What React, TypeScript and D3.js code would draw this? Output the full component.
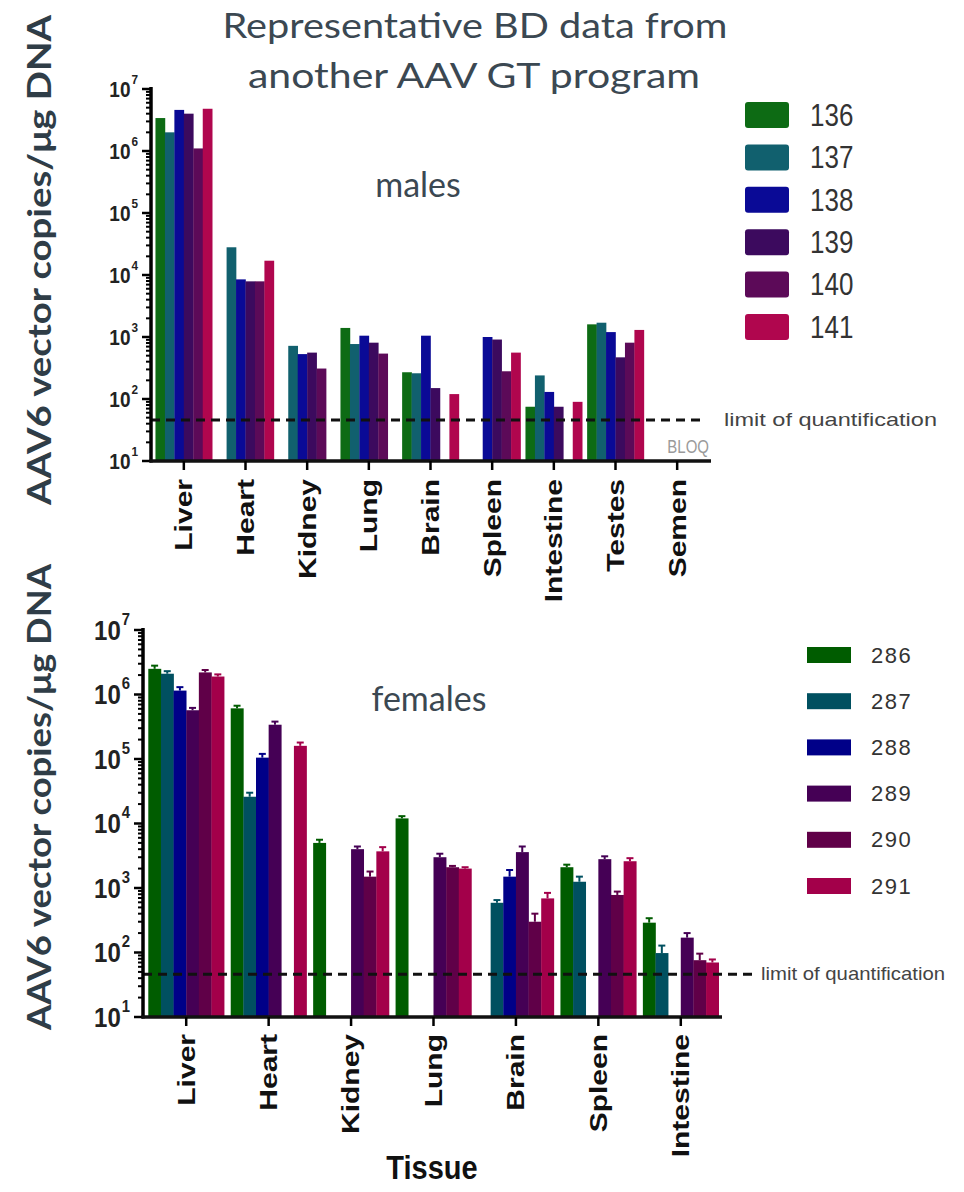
import React from 'react';
import * as d3 from 'd3';

// ---- males (study animals 136–141) ----
const maleTissues = ['Liver', 'Heart', 'Kidney', 'Lung', 'Brain', 'Spleen', 'Intestine', 'Testes', 'Semen'];
const maleIds = ['136', '137', '138', '139', '140', '141'];
const m136 = [3.4e6, null, null, 1.4e3, 270, null, 75, 1.6e3, null];
const m137 = [2.0e6, 2.8e4, 720, 770, 260, null, 240, 1.7e3, null];
const m138 = [4.6e6, 8.5e3, 530, 1.05e3, 1.05e3, 1.0e3, 130, 1.2e3, null];
const m139 = [4.0e6, 7.9e3, 560, 810, 150, 910, 75, 470, null];
const m140 = [1.1e6, 7.9e3, 310, 540, null, 280, null, 810, null];
const m141 = [4.8e6, 1.7e4, null, null, 120, 560, 90, 1.3e3, null];
const maleColors = ['#0d6b14', '#11606e', '#0a0a96', '#3c0a5e', '#5c0a58', '#b0064e'];

// ---- females (study animals 286–291) ----
const femaleTissues = ['Liver', 'Heart', 'Kidney', 'Lung', 'Brain', 'Spleen', 'Intestine'];
const femaleIds = ['286', '287', '288', '289', '290', '291'];
const f286 = [2.5e6, 6.1e5, 5.0e3, 1.2e4, null, 2.1e3, 290];
const f287 = [2.1e6, 2.6e4, null, null, 590, 1.25e3, 98];
const f288 = [1.15e6, 1.05e5, null, null, 1.5e3, null, null];
const f289 = [5.7e5, 3.4e5, 4.0e3, 3.0e3, 3.6e3, 2.8e3, 170];
const f290 = [2.2e6, null, 1.5e3, 2.1e3, 300, 780, 76];
const f291 = [1.9e6, 1.6e5, 3.7e3, 2.0e3, 690, 2.6e3, 70];
// upper error (SD) per bar
const f286Sd = [3e5, 6e4, 6e2, 1e3, null, 2e2, 50];
const f287Sd = [2e5, 4e3, null, null, 60, 250, 30];
const f288Sd = [1.5e5, 1.5e4, null, null, 400, null, null];
const f289Sd = [5e4, 4e4, 400, 400, 800, 300, 30];
const f290Sd = [2e5, null, 300, 100, 100, 100, 20];
const f291Sd = [1.5e5, 2e4, 600, 100, 150, 300, 8];
const femaleColors = ['#005c00', '#005060', '#000088', '#450055', '#600048', '#a3004a'];

const yTickValues = [1e1, 1e2, 1e3, 1e4, 1e5, 1e6, 1e7];
const limitOfQuantification = 46;

const W = 964;
const H = 1192;

const SLIDE_FONT = 'Lato, "Open Sans", sans-serif';
const CHART_FONT = '"Liberation Sans", Arial, sans-serif';

type Panel = {
  tissues: string[];
  ids: string[];
  series: (number | null)[][];
  sds?: (number | null)[][];
  colors: string[];
  x0: number;
  x1: number;
  axisEnd: number;
  yTop: number;
  yBottom: number;
  tickFont: number;
  labelY: number;
  lodEnd: number;
  lodTextX: number;
  lodTextLen: number;
  bloq: boolean;
};

function Stretch({ x, y, sy, children, rotate }: { x: number; y: number; sy: number; children: React.ReactNode; rotate?: number }) {
  return (
    <g transform={`translate(${x},${y}) scale(1,${sy})${rotate ? ` rotate(${rotate})` : ''}`}>{children}</g>
  );
}

function BarPanel(p: Panel) {
  const x = d3.scaleBand<string>().domain(p.tissues).range([p.x0, p.x1]).paddingInner(0.08).paddingOuter(0.04);
  const xi = d3.scaleBand<string>().domain(p.ids).range([0, x.bandwidth()]).padding(0);
  const y = d3.scaleLog().domain([10, 1e7]).range([p.yBottom, p.yTop]);
  const minor = y.ticks().filter((t) => !yTickValues.includes(t));
  const axisX = p.x0 - 2;

  return (
    <g>
      {/* bars */}
      {p.series.map((vals, si) =>
        vals.map((v, ti) => {
          if (v == null) return null;
          const bx = (x(p.tissues[ti]) as number) + (xi(p.ids[si]) as number);
          const top = y(v);
          const sd = p.sds ? p.sds[si][ti] : null;
          return (
            <g key={`${si}-${ti}`}>
              <rect x={bx} y={top} width={xi.bandwidth() + 0.3} height={p.yBottom - top} fill={p.colors[si]} />
              {sd != null && (
                <g stroke={p.colors[si]} strokeWidth={2}>
                  <line x1={bx + xi.bandwidth() / 2} x2={bx + xi.bandwidth() / 2} y1={top} y2={y(v + sd)} />
                  <line x1={bx + xi.bandwidth() / 2 - 3.5} x2={bx + xi.bandwidth() / 2 + 3.5} y1={y(v + sd)} y2={y(v + sd)} />
                </g>
              )}
            </g>
          );
        })
      )}

      {/* limit of quantification */}
      <line
        x1={axisX}
        x2={p.lodEnd}
        y1={y(limitOfQuantification)}
        y2={y(limitOfQuantification)}
        stroke="#111"
        strokeWidth={3}
        strokeDasharray="9 6"
      />
      <Stretch x={p.lodTextX} y={y(limitOfQuantification)} sy={1.2}>
        <text
          fontFamily={CHART_FONT}
          fontSize={15}
          fill="#444"
          dominantBaseline="central"
          textLength={p.lodTextLen}
          lengthAdjust="spacingAndGlyphs"
        >
          limit of quantification
        </text>
      </Stretch>
      {p.bloq && (
        <Stretch x={p.axisEnd - 2} y={p.yBottom - 14} sy={1.2}>
          <text fontFamily={CHART_FONT} fontSize={15} fill="#9a9a9a" textAnchor="end" dominantBaseline="central">
            BLOQ
          </text>
        </Stretch>
      )}

      {/* y axis */}
      <line x1={axisX} x2={axisX} y1={p.yTop - 2} y2={p.yBottom + 1.5} stroke="#000" strokeWidth={3.5} />
      {minor.map((t) => (
        <line key={`mn${t}`} x1={axisX - 5} x2={axisX} y1={y(t)} y2={y(t)} stroke="#000" strokeWidth={2} />
      ))}
      {yTickValues.map((t) => (
        <g key={`mj${t}`}>
          <line x1={axisX - 9} x2={axisX} y1={y(t)} y2={y(t)} stroke="#000" strokeWidth={2.5} />
          <Stretch x={axisX - 13} y={y(t)} sy={1.15}>
            <text fontFamily={CHART_FONT} fontSize={p.tickFont} fontWeight="bold" fill="#222" textAnchor="end" dominantBaseline="central">
              10
              <tspan fontSize={p.tickFont * 0.62} dy={-p.tickFont * 0.42} dx={1}>
                {Math.round(Math.log10(t))}
              </tspan>
            </text>
          </Stretch>
        </g>
      ))}

      {/* x axis */}
      <line x1={axisX - 1.5} x2={p.axisEnd} y1={p.yBottom} y2={p.yBottom} stroke="#111" strokeWidth={3.5} />
      {p.tissues.map((t) => {
        const cx = (x(t) as number) + x.bandwidth() / 2;
        return (
          <g key={t}>
            <line x1={cx} x2={cx} y1={p.yBottom} y2={p.yBottom + 9} stroke="#000" strokeWidth={2.5} />
            <Stretch x={cx} y={p.labelY} sy={1.25} rotate={-90}>
              <text fontFamily={CHART_FONT} fontSize={24} fontWeight="bold" fill="#111" textAnchor="end" dominantBaseline="central">
                {t}
              </text>
            </Stretch>
          </g>
        );
      })}
    </g>
  );
}

export default function App() {
  const maleSeries = [m136, m137, m138, m139, m140, m141];
  const femaleSeries = [f286, f287, f288, f289, f290, f291];
  const femaleSds = [f286Sd, f287Sd, f288Sd, f289Sd, f290Sd, f291Sd];

  const maleLegendY = d3.scalePoint<string>().domain(maleIds).range([115, 327]);
  const femaleLegendY = d3.scalePoint<string>().domain(femaleIds).range([655, 886]);

  return (
    <svg width={W} height={H} style={{ position: 'absolute', left: 0, top: 0, background: '#fff' }}>
      <rect width={W} height={H} fill="#fff" />

      {/* heading */}
      <text x={475} y={38} fontFamily={SLIDE_FONT} fontSize={34} fill="#3b4852" textAnchor="middle" textLength={505} lengthAdjust="spacingAndGlyphs">
        Representative BD data from
      </text>
      <text x={474} y={88} fontFamily={SLIDE_FONT} fontSize={34} fill="#3b4852" textAnchor="middle" textLength={452} lengthAdjust="spacingAndGlyphs">
        another AAV GT program
      </text>
      <text x={418} y={197} fontFamily={SLIDE_FONT} fontSize={34} fill="#3b4852" textAnchor="middle">
        males
      </text>
      <text x={429} y={711} fontFamily={SLIDE_FONT} fontSize={34} fill="#3b4852" textAnchor="middle">
        females
      </text>

      {/* y axis titles */}
      <text
        transform="translate(51,260) rotate(-90)"
        fontFamily={SLIDE_FONT}
        fontWeight="bold"
        fontSize={33}
        fill="#2f3d47"
        textAnchor="middle"
        textLength={490}
        lengthAdjust="spacingAndGlyphs"
      >
        AAV6 vector copies/μg DNA
      </text>
      <text
        transform="translate(51,797) rotate(-90)"
        fontFamily={SLIDE_FONT}
        fontWeight="bold"
        fontSize={33}
        fill="#2f3d47"
        textAnchor="middle"
        textLength={466}
        lengthAdjust="spacingAndGlyphs"
      >
        AAV6 vector copies/μg DNA
      </text>

      <BarPanel
        tissues={maleTissues}
        ids={maleIds}
        series={maleSeries}
        colors={maleColors}
        x0={153}
        x1={708}
        axisEnd={711}
        yTop={89}
        yBottom={461}
        tickFont={19}
        labelY={479}
        lodEnd={704}
        lodTextX={724}
        lodTextLen={213}
        bloq={true}
      />

      <BarPanel
        tissues={femaleTissues}
        ids={femaleIds}
        series={femaleSeries}
        sds={femaleSds}
        colors={femaleColors}
        x0={145}
        x1={722}
        axisEnd={722}
        yTop={630}
        yBottom={1017}
        tickFont={24}
        labelY={1034}
        lodEnd={754}
        lodTextX={761}
        lodTextLen={184}
        bloq={false}
      />

      {/* legends */}
      {maleIds.map((id, i) => (
        <g key={id}>
          <rect x={745} y={(maleLegendY(id) as number) - 13} width={44} height={26} rx={3} fill={maleColors[i]} />
          <Stretch x={810} y={maleLegendY(id) as number} sy={1.18}>
            <text fontFamily={CHART_FONT} fontSize={26} fill="#333" dominantBaseline="central">
              {id}
            </text>
          </Stretch>
        </g>
      ))}
      {femaleIds.map((id, i) => (
        <g key={id}>
          <rect x={807} y={(femaleLegendY(id) as number) - 8} width={44} height={16} fill={femaleColors[i]} />
          <text x={871} y={femaleLegendY(id) as number} fontFamily={CHART_FONT} fontSize={22} letterSpacing={1.5} fill="#333" dominantBaseline="central">
            {id}
          </text>
        </g>
      ))}

      {/* x axis title */}
      <Stretch x={432} y={1168} sy={1.15}>
        <text fontFamily={CHART_FONT} fontSize={29} fontWeight="bold" fill="#111" textAnchor="middle" dominantBaseline="central">
          Tissue
        </text>
      </Stretch>
    </svg>
  );
}
